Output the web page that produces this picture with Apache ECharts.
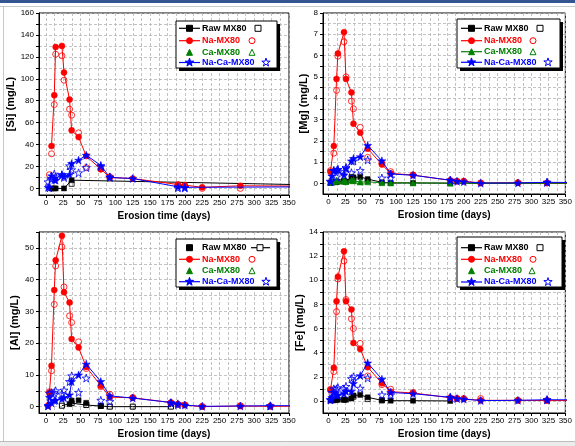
<!DOCTYPE html>
<html>
<head>
<meta charset="utf-8">
<script src="https://cdn.jsdelivr.net/npm/echarts@6/dist/echarts.min.js"></script>
<style>
  html, body { margin: 0; padding: 0; background: #fff; }
  #main { width: 575px; height: 446px; }
</style>
</head>
<body>
<div id="main"></div>
<script>
// sampling days (last column lies past the axis end, lines run out of the frame)
const days = [3, 5, 8, 12, 14, 23, 26, 34, 37, 47, 58, 79, 92, 125, 180, 190, 200, 225, 280, 323, 400];

// [Si]
const siRaw      = [null, null, 0, 0, 0, null, 0, null, 7.5, null, null, null, null, null, null, null, null, null, null, null, 3];
const siRawOpen  = [null, null, null, null, null, null, null, null, 4.2, null, null, null, null, null, null, null, null, null, null, null, null];
const siNa       = [null, null, 38.6, 85, 129, 130, 105.7, 81, 53, 46.8, 29.5, 17.6, 10, 9, null, 3.6, 3, 1, 2.4, null, 2];
const siNaOpen   = [null, 12.5, 31.6, 76.5, 122.4, 121, 98.7, 72.3, 66.8, 50.7, 19, 17.6, 10.6, null, null, 2.7, 2.4, 0, 0, null, null];
const siCa       = [];
const siCaOpen   = [];
const siNaCa     = [1, null, 11.5, 8, 7.5, 12.7, 11, 12.7, 22.7, 25.8, 30.3, 21, 10, 9, null, 1.5, 1, null, null, null, 1.5];
const siNaCaOpen = [6, 0.5, 9, 13, 10.5, 12, 10, 20.6, 17, 14.2, 19, 20, 10.5, null, null, 0.5, 0.5, null, null, null, null];

// [Mg]
const mgRaw      = [0.02, 0.03, 0.05, 0.06, 0.08, 0.1, 0.08, 0.3, 0.28, 0.3, 0.2, 0.05, 0.02, 0.02, 0.01, null, null, null, null, null, 0];
const mgRawOpen  = [null, null, null, null, null, 0.1, null, null, 0.2, null, 0.1, null, null, null, null, null, null, null, null, null, null];
const mgNa       = [0.55, null, 1.75, 4.9, 6.1, 7.1, 4.9, 4.27, 2.8, 2.38, 1.63, 0.88, 0.47, 0.39, 0.14, 0.1, 0.1, 0.02, 0.03, 0.02, 0.02];
const mgNaOpen   = [0.6, null, 1.42, 4.37, 5.97, 6.65, 5.0, 3.86, 3.5, 2.63, 1.22, 0.94, 0.55, 0.4, null, 0.1, 0.1, 0.02, 0.03, 0.02, null];
const mgCa       = [0.05, 0.08, 0.1, 0.1, 0.12, 0.1, 0.08, 0.15, 0.12, 0.06, 0.07, 0.03, 0.02, 0.02, 0.01, null, null, null, null, null, 0.01];
const mgCaOpen   = [null, null, null, 0.15, null, 0.15, null, null, 0.15, 0.1, null, null, null, null, null, null, null, null, null, null, null];
const mgNaCa     = [0.08, 0.35, 0.6, 0.6, 0.65, 0.4, 0.7, 1.05, 1.17, 1.25, 1.78, 1.06, 0.44, 0.38, 0.15, 0.1, 0.08, 0.01, 0.02, 0.05, 0.03];
const mgNaCaOpen = [0.1, null, 0.6, 0.3, 0.65, 0.55, 0.75, 0.5, 1.05, 0.6, 1.1, 0.25, 0.25, null, 0.15, null, null, null, null, 0.05, null];

// [Al]
const alRaw      = [null, null, null, null, null, null, null, 0.8, 1.9, 2.0, 1.2, 0.2, null, null, null, null, null, null, null, null, null];
const alRawOpen  = [null, null, null, null, null, 0.3, null, null, 1.1, null, 0.5, 0.2, 0, 0, 0, null, null, null, null, null, null];
const alNa       = [0.3, 4.4, 12.9, 36.7, 46.1, 53.8, 36, 32.8, 21.3, 18.6, 12.5, 6.6, 3.0, 2.8, 1.3, 0.8, 0.5, 0, 0.2, 0.1, 0.2];
const alNaOpen   = [null, 4.7, 11.3, 32.2, 44.3, 50.3, 37.7, 28.6, 26.5, 20.4, 12.0, 6.3, 3.9, 2.9, 1.2, 0.7, 0.6, 0.1, 0.3, 0.1, null];
const alCa       = [];
const alCaOpen   = [];
const alNaCa     = [0.3, 3, 1.2, 1.9, 2.0, 2.5, 2.8, 3.7, 7.9, 10, 13.4, 7.9, 3.4, 2.7, 1.3, 0.9, 0.5, 0.1, 0.2, 0.3, 0.3];
const alNaCaOpen = [0.3, 4.2, 4.4, 4.4, 5.0, 4.0, 5.2, 7.9, 9.7, 4.5, 9.0, 2.0, 1.6, null, 1.1, 0.6, null, null, null, 0.2, null];

// [Fe]
const feRaw      = [0.05, 0.05, 0.05, 0.08, 0.1, 0.1, 0.1, 0.2, 0.45, 0.5, 0.3, 0.05, 0.02, 0.02, 0, null, null, null, null, null, null];
const feRawOpen  = [null, null, null, null, null, 0.1, null, null, 0.35, null, 0.15, 0.05, null, null, null, null, null, null, null, null, null];
const feNa       = [0.9, null, 2.75, 8.26, 10.3, 12.4, 8.26, 7.57, 4.8, 4.3, 2.8, 1.46, 0.77, 0.66, 0.27, 0.2, 0.17, 0.05, 0.05, 0.03, 0.03];
const feNaOpen   = [0.97, null, 2.43, 7.4, 10.1, 11.6, 8.4, 6.8, 6.0, 4.77, 2.07, 1.35, 0.97, 0.7, null, 0.2, 0.2, 0.2, 0.05, 0.05, null];
const feCa       = [];
const feCaOpen   = [];
const feNaCa     = [0.1, 0.3, 0.7, 0.5, 0.45, 0.6, 0.8, 0.8, 1.45, 2.1, 3.15, 1.8, 0.7, 0.6, 0.3, 0.2, 0.15, 0.03, 0.05, 0.1, 0.08];
const feNaCaOpen = [0.1, 0.7, 1.0, 1.0, 1.1, 1.0, 1.2, 1.85, 2.0, 1.05, 1.9, 0.5, 0.5, null, 0.3, null, null, null, null, 0.1, null];

const xTicks = [0, 25, 50, 75, 100, 125, 150, 175, 200, 225, 250, 275, 300, 325, 350];
const xTitle = 'Erosion time (days)';
const legendNames = ['Raw MX80', 'Na-MX80', 'Ca-MX80', 'Na-Ca-MX80'];

const FONT = 'Liberation Sans, Arial, sans-serif';
const colors = ['#000000', '#ff0000', '#008000', '#0000ff'];
const STAR = 'path://M50 0L61.2 34.5L97.6 34.5L68.2 55.9L79.4 90.5L50 69.1L20.6 90.5L31.8 55.9L2.4 34.5L38.8 34.5Z';
const symbols = ['rect', 'circle', 'triangle', STAR];
const symSizes = [5, 6, 6, 8];

function steps(a, b, s) {
  const out = [];
  for (let v = a; v <= b + 1e-9; v += s) out.push(+v.toFixed(4));
  return out;
}
function pairs(arr) {
  const out = [];
  arr.forEach((v, i) => { if (v !== null && v !== undefined) out.push([days[i], v]); });
  return out;
}

const panels = [
  { title: '[Si] (mg/L)', grid: { left: 39, top: 13, width: 250, height: 182 }, xMin: -10,
    yMin: -6, yMax: 160, yStep: 20, yMinor: 10, nameGap: 19,
    filled: [siRaw, siNa, siCa, siNaCa], open: [siRawOpen, siNaOpen, siCaOpen, siNaCaOpen],
    lines: [true, true, false, true], openLine: false,
    legend: { box: [176, 21, 277, 68], rows: [28.3, 40.7, 52.3, 62.5], lx: [179, 200], tx: 202, ox: [258, 252, 252, 266], sample: ['line', 'line', 'sym', 'line'] } },
  { title: '[Mg] (mg/L)', grid: { left: 323, top: 13, width: 248, height: 181 }, xMin: -8,
    yMin: -0.5, yMax: 8, yStep: 1, yMinor: 0.5, nameGap: 12,
    filled: [mgRaw, mgNa, mgCa, mgNaCa], open: [mgRawOpen, mgNaOpen, mgCaOpen, mgNaCaOpen],
    lines: [true, true, true, true], openLine: false,
    legend: { box: [457, 19, 560, 68], rows: [28.3, 40.7, 51.7, 62.3], lx: [461, 482], tx: 484, ox: [540, 533, 533, 548], sample: ['line', 'line', 'line', 'line'] } },
  { title: '[Al] (mg/L)', grid: { left: 39, top: 232, width: 250, height: 181 }, xMin: -10,
    yMin: -2, yMax: 55, yStep: 10, yMinor: 5, nameGap: 19,
    filled: [alRaw, alNa, alCa, alNaCa], open: [alRawOpen, alNaOpen, alCaOpen, alNaCaOpen],
    lines: [false, true, false, true], openLine: true,
    legend: { box: [176, 239, 277, 287], rows: [247.7, 259.3, 270.7, 281.7], lx: [179, 200], tx: 202, ox: [260, 252, 252, 266], sample: ['sym', 'line', 'sym', 'line'] } },
  { title: '[Fe] (mg/L)', grid: { left: 323, top: 232, width: 248, height: 181 }, xMin: -8,
    yMin: -1, yMax: 14, yStep: 2, yMinor: 1, nameGap: 12,
    filled: [feRaw, feNa, feCa, feNaCa], open: [feRawOpen, feNaOpen, feCaOpen, feNaCaOpen],
    lines: [true, true, false, true], openLine: false,
    legend: { box: [457, 237, 562, 287], rows: [247.7, 259.3, 270.7, 282], lx: [461, 482], tx: 484, ox: [540, 533, 532, 548], sample: ['line', 'line', 'sym', 'line'] } }
];

const splitStyle = { color: '#b4b4b4', type: [3, 2], width: 0.8 };
const grids = [], xAxes = [], yAxes = [], series = [];

panels.forEach((p, gi) => {
  grids.push(Object.assign({ show: true, borderColor: '#000', borderWidth: 1, backgroundColor: '#fff' }, p.grid));
  xAxes.push({
    gridIndex: gi, type: 'value', min: p.xMin, max: 350,
    name: xTitle, nameLocation: 'middle', nameGap: 16,
    nameTextStyle: { fontFamily: FONT, fontWeight: 'bold', fontSize: 10, color: '#000' },
    axisLine: { onZero: false, lineStyle: { color: '#000', width: 1 } },
    axisTick: { length: 3, customValues: steps(0, 350, 12.5), lineStyle: { color: '#000' } },
    axisLabel: { customValues: xTicks, margin: 4, fontFamily: FONT, fontSize: 8, color: '#000' },
    splitLine: { show: true, lineStyle: splitStyle }
  });
  yAxes.push({
    gridIndex: gi, type: 'value', min: p.yMin, max: p.yMax,
    name: p.title, nameLocation: 'middle', nameGap: p.nameGap, nameRotate: 90,
    nameTextStyle: { fontFamily: FONT, fontWeight: 'bold', fontSize: 11, color: '#000' },
    axisLine: { onZero: false, lineStyle: { color: '#000', width: 1 } },
    axisTick: { length: 3, customValues: steps(0, p.yMax, p.yMinor), lineStyle: { color: '#000' } },
    axisLabel: { customValues: steps(0, p.yMax, p.yStep), margin: 5, fontFamily: FONT, fontSize: 8, color: '#000' },
    splitLine: { show: true, lineStyle: splitStyle }
  });

  for (let k = 0; k < 4; k++) {
    // open markers
    const od = pairs(p.open[k]);
    if (od.length) {
      const withLine = k === 0 && p.openLine;
      series.push({
        type: withLine ? 'line' : 'scatter', xAxisIndex: gi, yAxisIndex: gi, data: od,
        symbol: symbols[k], symbolSize: symSizes[k], clip: true, z: 2 + k,
        itemStyle: { color: 'rgba(0,0,0,0)', borderColor: colors[k], borderWidth: 1 },
        lineStyle: { color: colors[k], width: 1 }
      });
    }
    // filled markers
    const fd = pairs(p.filled[k]);
    if (fd.length) {
      series.push({
        type: 'line', xAxisIndex: gi, yAxisIndex: gi, data: fd,
        symbol: symbols[k], symbolSize: symSizes[k], showAllSymbol: true, clip: true, z: 3 + k,
        itemStyle: { color: colors[k], borderColor: colors[k], borderWidth: 0.5 },
        lineStyle: { color: colors[k], width: 1, opacity: p.lines[k] ? 1 : 0 }
      });
    }
  }
});

// legend drawn as graphics: line sample, coloured text, open marker
function marker(kind, cx, cy, s, color, filled) {
  const style = { fill: filled ? color : 'none', stroke: color, lineWidth: 1 };
  if (kind === 0) return { type: 'rect', shape: { x: cx - s / 2, y: cy - s / 2, width: s, height: s }, style };
  if (kind === 1) return { type: 'circle', shape: { cx, cy, r: s / 2 }, style };
  if (kind === 2) return { type: 'polygon', shape: { points: [[cx, cy - s / 2], [cx + s / 2, cy + s / 2], [cx - s / 2, cy + s / 2]] }, style };
  const pts = [];
  for (let i = 0; i < 10; i++) {
    const r = i % 2 ? s * 0.21 : s * 0.55;
    const a = -Math.PI / 2 + i * Math.PI / 5;
    pts.push([cx + r * Math.cos(a), cy + r * Math.sin(a)]);
  }
  return { type: 'polygon', shape: { points: pts }, style };
}

const graphic = [
  { type: 'rect', shape: { x: 0, y: 0, width: 575, height: 3 }, style: { fill: '#34558f' }, z: 0 },
  { type: 'line', shape: { x1: 0, y1: 6.5, x2: 575, y2: 6.5 }, style: { stroke: '#c8c8c8', lineWidth: 1 } },
  { type: 'line', shape: { x1: 3.5, y1: 6, x2: 3.5, y2: 441 }, style: { stroke: '#c8c8c8', lineWidth: 1 } },
  { type: 'rect', shape: { x: 0, y: 441, width: 575, height: 5 }, style: { fill: '#ececec' } },
  { type: 'line', shape: { x1: 0, y1: 441.5, x2: 575, y2: 441.5 }, style: { stroke: '#bdbdbd', lineWidth: 1 } }
];

panels.forEach(p => {
  const L = p.legend, b = L.box;
  const els = [];
  els.push({ type: 'rect', shape: { x: b[0] + 3, y: b[1] + 3, width: b[2] - b[0], height: b[3] - b[1] }, style: { fill: '#000' } });
  els.push({ type: 'rect', shape: { x: b[0], y: b[1], width: b[2] - b[0], height: b[3] - b[1] }, style: { fill: '#fff', stroke: '#000', lineWidth: 1 } });
  for (let k = 0; k < 4; k++) {
    const y = L.rows[k], mx = (L.lx[0] + L.lx[1]) / 2;
    if (L.sample[k] === 'line') {
      els.push({ type: 'line', shape: { x1: L.lx[0], y1: y, x2: L.lx[1], y2: y }, style: { stroke: colors[k], lineWidth: 1.2 } });
    }
    els.push(marker(k, mx, y, k === 3 ? 8 : 6, colors[k], true));
    els.push({ type: 'text', x: L.tx, y: y, style: { text: legendNames[k], fill: colors[k], font: 'bold 9px ' + FONT, verticalAlign: 'middle', align: 'left' } });
    if (k === 0 && p.openLine) {
      els.push({ type: 'line', shape: { x1: L.ox[0] - 9, y1: y, x2: L.ox[0] + 10, y2: y }, style: { stroke: colors[k], lineWidth: 1.2 } });
      els.push({ type: 'rect', shape: { x: L.ox[0] - 3, y: y - 3, width: 6, height: 6 }, style: { fill: '#fff', stroke: '#000', lineWidth: 1 } });
    } else {
      els.push(marker(k, L.ox[k], y, k === 3 ? 8 : 6, colors[k], false));
    }
  }
  // every child carries its own z so the box sits above the plot
  els.forEach((e, i) => { e.z = 100 + i; });
  graphic.push({ type: 'group', children: els });
});

const chart = echarts.init(document.getElementById('main'));
chart.setOption({
  animation: false,
  backgroundColor: '#fff',
  grid: grids,
  xAxis: xAxes,
  yAxis: yAxes,
  series: series,
  graphic: graphic
});
</script>
</body>
</html>
